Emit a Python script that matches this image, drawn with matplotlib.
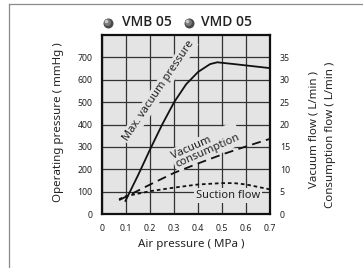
import matplotlib
matplotlib.use("Agg")
import matplotlib.pyplot as plt
from matplotlib.lines import Line2D

plt.rcParams['font.family'] = ['Noto Sans', 'DejaVu Sans']

# ---- data ----
x_ticks = [0, 0.1, 0.2, 0.3, 0.4, 0.5, 0.6, 0.7]
x_ticklabels = ["0", "0.1", "0.2", "0.3", "0.4", "0.5", "0.6", "0.7"]
left_ticks = [0, 100, 200, 300, 400, 500, 600, 700]
right_ticks = [0, 5, 10, 15, 20, 25, 30, 35]

vac_x = [0.095, 0.15, 0.2, 0.25, 0.3, 0.35, 0.4, 0.45, 0.48, 0.55, 0.6, 0.7]
vac_y = [55, 175, 290, 400, 500, 580, 635, 670, 678, 670, 664, 652]

cons_x = [0.07, 0.1, 0.2, 0.3, 0.4, 0.5, 0.6, 0.7]
cons_y = [3.1, 3.9, 6.6, 9.2, 11.3, 13.3, 15.1, 16.8]

suc_x = [0.07, 0.1, 0.2, 0.3, 0.4, 0.5, 0.55, 0.6, 0.7]
suc_y = [3.3, 4.0, 5.1, 5.9, 6.6, 6.9, 6.9, 6.6, 5.5]

series_names = ["VMB 05", "VMD 05"]

W, H = 363, 268
fig = plt.figure(figsize=(W / 100, H / 100), dpi=100)
fig.patch.set_facecolor('white')

ax = fig.add_axes([102.3 / W, 1 - 214 / H, (270 - 102.3) / W, (214 - 35) / H])
face = '#e4e4e4'
ax.set_facecolor(face)
ax.set_xlim(0, 0.7)
ax.set_ylim(0, 800)
ax.set_xticks(x_ticks)
ax.set_xticklabels(x_ticklabels)
ax.set_yticks(left_ticks)
ax.tick_params(axis='both', length=0, labelsize=6.3, colors='#222', pad=7)
ax.grid(True, color='#333333', lw=0.9)
ax.set_axisbelow(True)
for s in ax.spines.values():
    s.set_linewidth(1.6)
    s.set_color('#111')

ax.set_xlabel("Air pressure ( MPa )", fontsize=8.3, color='#222')
ax.xaxis.set_label_coords((191.5 - 102.3) / (270 - 102.3), -(238.5 - 214) / 179)
ax.set_ylabel("Operating pressure ( mmHg )", fontsize=8.3, color='#222')
ax.yaxis.set_label_coords(-(102.3 - 64) / (270 - 102.3), (214 - 122) / 179)

ax2 = ax.twinx()
ax2.set_ylim(0, 40)
ax2.set_yticks(right_ticks)
ax2.tick_params(axis='y', length=0, labelsize=6.3, colors='#222', pad=7)
for s in ax2.spines.values():
    s.set_visible(False)

# curves
ax.plot(vac_x, vac_y, color='#111', lw=1.3, zorder=5, solid_capstyle='butt')
ax2.plot(cons_x, cons_y, color='#111', lw=1.3, ls=(0, (5, 3)), zorder=5)
ax2.plot(suc_x, suc_y, color='#111', lw=1.3, ls=(0, (2, 1.6)), zorder=5)

bb = dict(boxstyle='square,pad=0.15', fc=face, ec='none')
ax.text(0.235, 550, "Max. vacuum pressure", rotation=56, fontsize=8, color='#222',
        ha='center', va='center', bbox=bb, zorder=3, rotation_mode='anchor')
ax.text(0.433, 300, "Vacuum\nconsumption", rotation=24, fontsize=8, color='#222',
        ha='center', va='center', bbox=bb, zorder=3, linespacing=0.85,
        rotation_mode='anchor', multialignment='left')
ax2.text(0.525, 4.1, "Suction flow", fontsize=8, color='#222',
         ha='center', va='center', bbox=bb, zorder=3)

# right labels
fig.text(314 / W, 1 - 130 / H, "Vacuum flow ( L/min )", rotation=90, fontsize=8.3,
         color='#222', ha='center', va='center')
fig.text(331 / W, 1 - 135 / H, "Consumption flow ( L/min )", rotation=90, fontsize=8.3,
         color='#222', ha='center', va='center')

# title with sphere bullets
ty = 1 - 22.5 / H
for bx in (107.5, 188.5):
    fig.add_artist(Line2D([bx / W], [ty], marker='o', markersize=7.2, color='#4a4a4a',
                          markeredgewidth=0, transform=fig.transFigure))
    fig.add_artist(Line2D([(bx - 0.6) / W], [ty + 0.8 / H], marker='o', markersize=5,
                          color='#7a7a7a', markeredgewidth=0, transform=fig.transFigure))
    fig.add_artist(Line2D([(bx - 1.2) / W], [ty + 1.6 / H], marker='o', markersize=2.5,
                          color='#c8c8c8', markeredgewidth=0, transform=fig.transFigure))
tfam = ['Open Sans', 'Noto Sans', 'DejaVu Sans']
fig.text(122 / W, ty, series_names[0], fontsize=10, fontweight='semibold', color='#222',
         ha='left', va='center', family=tfam)
fig.text(201 / W, ty, series_names[1], fontsize=10, fontweight='semibold', color='#222',
         ha='left', va='center', family=tfam)

# figure frame lines (top and left)
fig.add_artist(Line2D([9 / W, 1], [1 - 3.5 / H] * 2, color='#8a8a8a', lw=0.9,
                      transform=fig.transFigure))
fig.add_artist(Line2D([9 / W] * 2, [0, 1 - 3.5 / H], color='#8a8a8a', lw=0.9,
                      transform=fig.transFigure))

fig.savefig("out.png", dpi=100)
